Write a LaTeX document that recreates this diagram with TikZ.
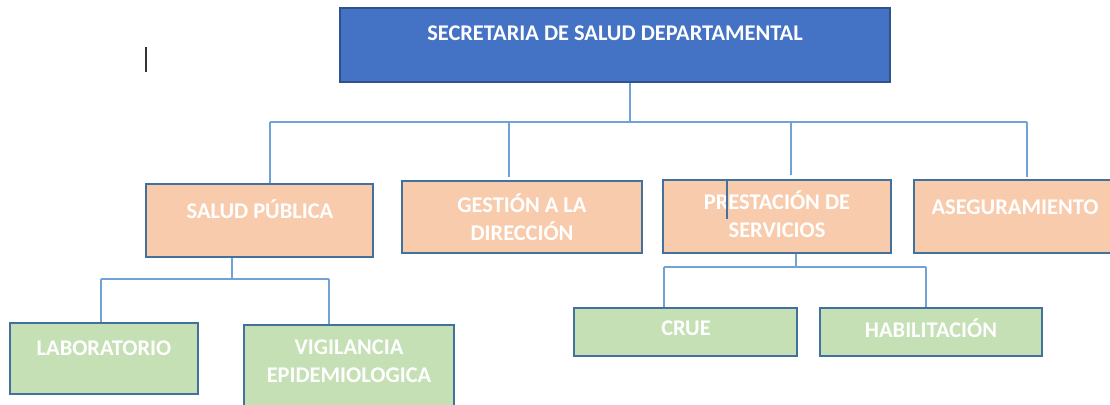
\documentclass[tikz,border=0pt]{standalone}
\usepackage{fontspec}
\setmainfont{Carlito}
\usetikzlibrary{positioning,fit}
\definecolor{headfill}{HTML}{4472C4}
\definecolor{headedge}{HTML}{2F528F}
\definecolor{unitfill}{HTML}{F8CBAD}
\definecolor{subfill}{HTML}{C5E0B4}
\definecolor{boxedge}{HTML}{41719C}
\definecolor{linkblue}{HTML}{6FA3D8}
\begin{document}
\begin{tikzpicture}[
            x=0.75pt, y=-0.75pt,
            box/.style={rectangle, draw=boxedge, line width=1.1pt, inner sep=0pt},
            head/.style={box, fill=headfill, draw=headedge},
            unit/.style={box, fill=unitfill},
            sub/.style={box, fill=subfill},
            lbl/.style={text=white, font=\fontsize{16.8}{21}\selectfont\bfseries, align=center, inner sep=0pt},
            link/.style={draw=linkblue, line width=1.1pt}
        ]
        \useasboundingbox (0,0) rectangle (1110,404);

        \node[head, fit={(340,8) (890,82)}] (sec) {};
        \node[unit, fit={(146,184) (373,257)}] (sp) {};
        \node[unit, fit={(402,181) (642,253)}] (gd) {};
        \node[unit, fit={(663,180) (891,253)}] (ps) {};
        \node[unit, fit={(914,180) (1116,253)}] (as) {};
        \node[sub, fit={(10,323) (198,394)}] (lab) {};
        \node[sub, fit={(244,325) (454,412)}] (vig) {};
        \node[sub, fit={(574,308) (797,356)}] (crue) {};
        \node[sub, fit={(820,308) (1042,356)}] (hab) {};

        \node[lbl] (sec-t) at (615,33) {SECRETARIA DE SALUD DEPARTAMENTAL};
        \node[lbl] (sp-t) at (260,209) {SALUD PÚBLICA};
        \node[lbl] (gd-t) at (522,217) {GESTIÓN A LA\\DIRECCIÓN};
        \node[lbl] (ps-t) at (777,214) {PRESTACIÓN DE\\SERVICIOS};
        \node[lbl] (as-t) at (1015,207) {ASEGURAMIENTO};
        \node[lbl] (lab-t) at (104,348) {LABORATORIO};
        \node[lbl] (vig-t) at (349,361) {VIGILANCIA\\EPIDEMIOLOGICA};
        \node[lbl] (crue-t) at (686,328) {CRUE};
        \node[lbl] (hab-t) at (931,328) {HABILITACIÓN};

        % first level
        \coordinate (topj) at (630,122);
        \coordinate (busL) at (270,122);
        \coordinate (busR) at (1027,122);
        \coordinate (gdj) at (509,122);
        \coordinate (gdj-e) at (509,177);
        \coordinate (psj) at (791,122);
        \coordinate (psj-e) at (791,175);
        \coordinate (asj-e) at (1027,177);
        \draw[link] (sec.south -| topj) -- (topj);
        \draw[link] (busL) -- (busR);
        \draw[link] (busL) -- (sp.north -| busL);
        \draw[link] (gdj) -- (gdj-e);
        \draw[link] (psj) -- (psj-e);
        \draw[link] (busR) -- (asj-e);
        \coordinate (psmark) at (727,219);
        \draw[link, draw=boxedge] (ps.north -| psmark) -- (psmark);

        % second level
        \coordinate (spj) at (232,279);
        \coordinate (labj) at (101,279);
        \coordinate (vigj) at (329,279);
        \draw[link] (sp.south -| spj) -- (spj);
        \draw[link] (labj) -- (vigj);
        \draw[link] (labj) -- (lab.north -| labj);
        \draw[link] (vigj) -- (vig.north -| vigj);

        \coordinate (psk) at (796,268);
        \coordinate (cruej) at (664,267);
        \coordinate (habj) at (926,267);
        \draw[link] (ps.south -| psk) -- (psk);
        \draw[link] (cruej) -- (habj);
        \draw[link] (cruej) -- (crue.north -| cruej);
        \draw[link] (habj) -- (hab.north -| habj);

        \draw[line width=1.5pt, black!80] (146,47) -- (146,72);

    \end{tikzpicture}
\end{document}
